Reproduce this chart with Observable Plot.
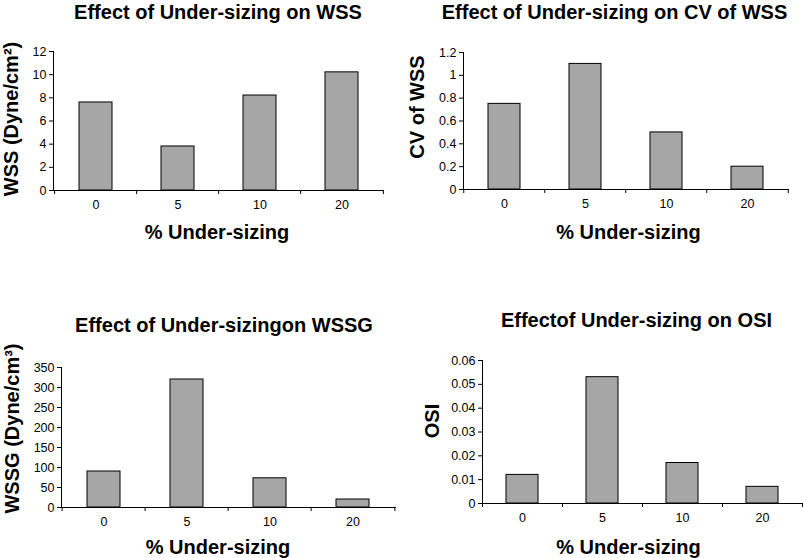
<!DOCTYPE html>
<html><head><meta charset="utf-8">
<script src="https://cdn.jsdelivr.net/npm/d3@7"></script>
<script src="https://cdn.jsdelivr.net/npm/@observablehq/plot@0.6"></script>
<style>
body{margin:0;background:#fff;}
#root{position:relative;width:803px;height:558px;overflow:hidden;background:#fff;font-family:"Liberation Sans",Arial,sans-serif;}
#root svg{position:absolute;}
</style></head><body><div id="root"></div>
<script>
const categories = ["0", "5", "10", "20"];
const wssValues = [7.6, 3.8, 8.2, 10.2];
const cvValues = [0.75, 1.1, 0.5, 0.2];
const wssgValues = [90, 320, 73, 20];
const osiValues = [0.012, 0.053, 0.017, 0.007];
const wssTicks = [0, 2, 4, 6, 8, 10, 12];
const cvTicks = [0, 0.2, 0.4, 0.6, 0.8, 1, 1.2];
const wssgTicks = [0, 50, 100, 150, 200, 250, 300, 350];
const osiTicks = [0, 0.01, 0.02, 0.03, 0.04, 0.05, 0.06];
const titles = ["Effect of Under-sizing on WSS", "Effect of Under-sizing on CV of WSS", "Effect of Under-sizingon WSSG", "Effectof Under-sizing on OSI"];
const yLabels = ["WSS (Dyne/cm\u00B2)", "CV of WSS", "WSSG (Dyne/cm\u00B3)", "OSI"];
const xLabel = "% Under-sizing";

const panels = [
  {values: wssValues, ticks: wssTicks, title: titles[0], ylab: yLabels[0],
   left: 0, top: 0, width: 400, height: 279, ml: 53, mr: 16, mt: 51, mb: 89,
   tdx: -1, tdy: -39, ydx: -42, ydy: -2, xdx: -2, xdy: 42},
  {values: cvValues, ticks: cvTicks, title: titles[1], ylab: yLabels[1],
   left: 400, top: 0, width: 403, height: 279, ml: 63, mr: 14, mt: 52, mb: 90,
   tdx: -12, tdy: -40, ydx: -46, ydy: -14, xdx: 2, xdy: 43},
  {values: wssgValues, ticks: wssgTicks, title: titles[2], ylab: yLabels[2],
   left: 0, top: 279, width: 400, height: 279, ml: 61, mr: 4, mt: 88, mb: 51,
   tdx: -5, tdy: -42, ydx: -49, ydy: -9, xdx: -11, xdy: 40},
  {values: osiValues, ticks: osiTicks, title: titles[3], ylab: yLabels[3],
   left: 400, top: 279, width: 403, height: 279, ml: 82, mr: 1, mt: 81, mb: 55,
   tdx: -6, tdy: -40, ydx: -50, ydy: -11, xdx: -14, xdy: 44}
];

const root = document.getElementById("root");
const fmt = d3.format("~g");

for (const p of panels) {
  const data = categories.map((c, i) => ({cat: c, v: p.values[i]}));
  const step = (p.width - p.ml - p.mr) / categories.length;
  const svg = Plot.plot({
    width: p.width, height: p.height,
    marginLeft: p.ml, marginRight: p.mr, marginTop: p.mt, marginBottom: p.mb,
    style: {fontFamily: '"Liberation Sans", Arial, sans-serif', fontSize: "12.5px", color: "#000", background: "transparent", overflow: "visible"},
    x: {type: "band", domain: categories, paddingInner: 0.6, paddingOuter: 0.3, axis: null},
    y: {domain: [0, p.ticks[p.ticks.length - 1]], axis: null},
    marks: [
      Plot.barY(data, {x: "cat", y: "v", fill: "#a6a6a6", stroke: "#000", strokeWidth: 1}),
      Plot.ruleY([0], {stroke: "#000", strokeWidth: 1}),
      Plot.frame({anchor: "left", stroke: "#000", strokeWidth: 1}),
      Plot.axisY({ticks: p.ticks, tickSize: 4, tickPadding: 3, tickFormat: fmt, label: null, stroke: "#000", strokeOpacity: 1, fill: "#000"}),
      Plot.axisX({tickSize: 0, tickPadding: 10, label: null, fill: "#000"}),
      Plot.axisX({tickSize: 4, tickFormat: () => "", label: null, dx: -step / 2, stroke: "#000", strokeOpacity: 1}),
      Plot.axisX({ticks: [categories[categories.length - 1]], tickSize: 4, tickFormat: () => "", label: null, dx: step / 2, stroke: "#000", strokeOpacity: 1}),
      Plot.text([p.title], {text: d => d, frameAnchor: "top", dx: p.tdx, dy: p.tdy, fontSize: 20, fontWeight: "bold", textAnchor: "middle", lineAnchor: "middle", fill: "#000"}),
      Plot.text([p.ylab], {text: d => d, frameAnchor: "left", rotate: -90, dx: p.ydx, dy: p.ydy, fontSize: 20, fontWeight: "bold", textAnchor: "middle", lineAnchor: "middle", fill: "#000"}),
      Plot.text([xLabel], {text: d => d, frameAnchor: "bottom", dx: p.xdx, dy: p.xdy, fontSize: 20, fontWeight: "bold", textAnchor: "middle", lineAnchor: "middle", fill: "#000"})
    ]
  });
  svg.style.left = p.left + "px";
  svg.style.top = p.top + "px";
  root.appendChild(svg);
}
</script></body></html>
